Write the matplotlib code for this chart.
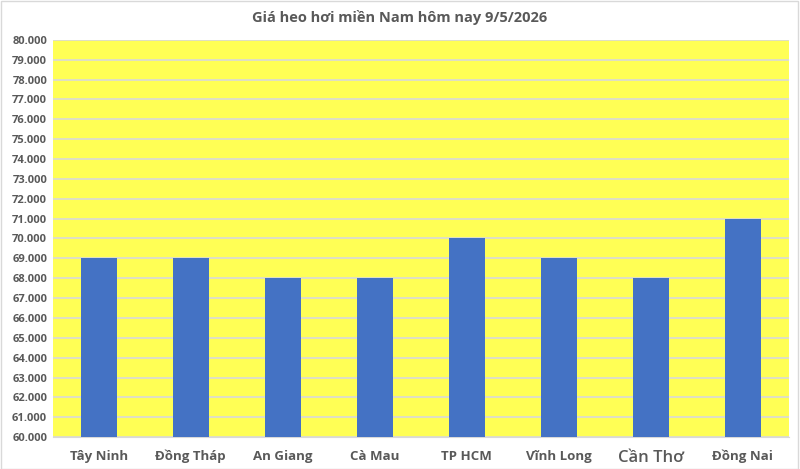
import matplotlib
matplotlib.use("Agg")
import matplotlib.pyplot as plt
from matplotlib.ticker import FuncFormatter, MultipleLocator

categories = ["Tây Ninh", "Đồng Tháp", "An Giang", "Cà Mau", "TP HCM", "Vĩnh Long", "Cần Thơ", "Đồng Nai"]
prices = [69000, 69000, 68000, 68000, 70000, 69000, 68000, 71000]
title = "Giá heo hơi miền Nam hôm nay 9/5/2026"

plt.rcParams['font.family'] = ['Open Sans', 'DejaVu Sans']
txt = '#595959'

fig = plt.figure(figsize=(8, 4.69), dpi=100)
fig.patch.set_facecolor('white')
ax = fig.add_axes([0.066, 0.068, 0.92, 0.847])
ax.set_facecolor('#FFFF55')

x = list(range(len(categories)))
ax.bar(x, prices, width=0.39, color='#4472C4', zorder=3)
ax.set_xlim(-0.5, len(categories) - 0.5)
ax.set_ylim(60000, 80000)
ax.yaxis.set_major_locator(MultipleLocator(1000))
ax.yaxis.set_major_formatter(FuncFormatter(lambda v, p: f"{int(v):,}".replace(",", ".")))
ax.grid(axis='y', color='#D9D9D9', linewidth=1.2, zorder=1)
ax.set_axisbelow(True)
for s in ax.spines.values():
    s.set_visible(False)
ax.spines['bottom'].set_visible(True)
ax.spines['bottom'].set_color('#D9D9D9')
ax.tick_params(axis='both', length=0, colors=txt)
ax.tick_params(axis='y', pad=4)
ax.tick_params(axis='x', pad=9)
ax.set_xticks(x)
ax.set_xticklabels(categories)
for lbl in ax.get_yticklabels():
    lbl.set_fontsize(8)
    lbl.set_fontweight('bold')
    lbl.set_color(txt)
for i, lbl in enumerate(ax.get_xticklabels()):
    lbl.set_color(txt)
    if categories[i] == "Cần Thơ":
        lbl.set_fontsize(12)
        lbl.set_fontweight('semibold')
    else:
        lbl.set_fontsize(9.5)
        lbl.set_fontweight('bold')

fig.text(0.5, 0.963, title, ha='center', va='center', fontsize=10.5, fontweight='bold', color=txt)
fig.add_artist(plt.Rectangle((0.001, 0.001), 0.997, 0.996, transform=fig.transFigure,
                             fill=False, edgecolor='#D9D9D9', linewidth=1))
fig.savefig("out.png", dpi=100)
